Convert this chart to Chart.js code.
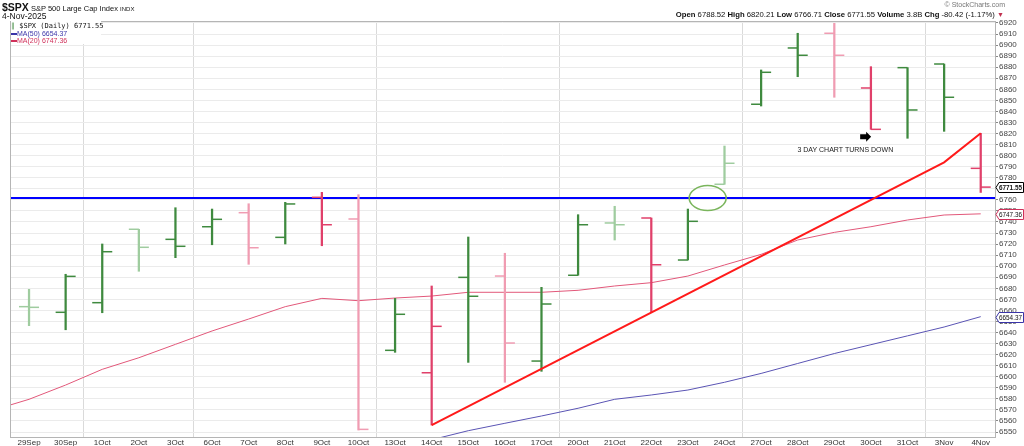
<!DOCTYPE html>
<html>
<head>
<meta charset="utf-8">
<script src="https://cdn.jsdelivr.net/npm/chart.js@4.4.1/dist/chart.umd.min.js"></script>
<style>
  html, body { margin: 0; padding: 0; background: #fff; }
  #wrap { position: relative; width: 1024px; height: 446px; font-family: "Liberation Sans", Arial, sans-serif; color: #111; }
  #c { position: absolute; left: 0; top: 0; }
  .txt { position: absolute; white-space: nowrap; line-height: 1; }
  #legend { position: absolute; left: 11px; top: 21px; width: 90px; height: 23px; background: #fff; }
  #legend div { height: 7px; line-height: 7px; font-size: 7px; white-space: nowrap; }
</style>
</head>
<body>
<div id="wrap">
  <canvas id="c" width="1024" height="446"></canvas>
  <div class="txt" style="left:2px;top:2px;font-size:7.5px;"><b style="font-size:10.5px;">$SPX</b> S&amp;P 500 Large Cap Index <span style="font-size:6px;">INDX</span></div>
  <div class="txt" style="left:2px;top:12px;font-size:8.5px;">4-Nov-2025</div>
  <div class="txt" style="right:19px;top:1px;font-size:7px;color:#777;">&copy; StockCharts.com</div>
  <div class="txt" style="right:20px;top:11px;font-size:7.7px;"><b>Open</b> 6788.52 <b>High</b> 6820.21 <b>Low</b> 6766.71 <b>Close</b> 6771.55 <b>Volume</b> 3.8B <b>Chg</b> -80.42 (-1.17%) <span style="color:#c0304f;font-size:7px;">&#9660;</span></div>
  <div id="legend">
    <div style="font-family:'DejaVu Sans Mono',monospace;margin-top:2px;"><span style="color:#3c8a3c;">&#8741;</span> $SPX (Daily) 6771.55</div>
    <div style="color:#3a35a8;"><span style="display:inline-block;width:6px;height:1.5px;background:#3a35a8;vertical-align:middle;"></span>MA(50) 6654.37</div>
    <div style="color:#d0305a;"><span style="display:inline-block;width:6px;height:1.5px;background:#d0305a;vertical-align:middle;"></span>MA(20) 6747.36</div>
  </div>
</div>
<script>
// 일별 OHLC
const DATES = ['29Sep', '30Sep', '1Oct', '2Oct', '3Oct', '6Oct', '7Oct', '8Oct', '9Oct', '10Oct', '13Oct', '14Oct', '15Oct', '16Oct', '17Oct', '20Oct', '21Oct', '22Oct', '23Oct', '24Oct', '27Oct', '28Oct', '29Oct', '30Oct', '31Oct', '3Nov', '4Nov'];
const OPEN  = [6663.4, 6658.3, 6667.0, 6733.4, 6724.3, 6735.7, 6748.4, 6726.1, 6762.3, 6742.7, 6623.9, 6603.6, 6689.9, 6691.1, 6614.2, 6691.8, 6739.1, 6743.6, 6705.6, 6774.1, 6846.5, 6897.4, 6910.7, 6861.2, 6879.6, 6882.9, 6788.52];
const HIGH  = [6679.1, 6692.7, 6720.1, 6733.4, 6752.9, 6751.7, 6756.5, 6757.8, 6766.8, 6764.7, 6670.9, 6682.1, 6726.4, 6711.7, 6680.9, 6746.6, 6754.2, 6743.6, 6751.7, 6808.7, 6877.5, 6910.7, 6919.7, 6880.5, 6879.6, 6882.9, 6820.21];
const LOW   = [6646.2, 6642.5, 6657.9, 6695.4, 6707.7, 6719.4, 6701.7, 6720.1, 6718.5, 6551.8, 6622.1, 6556.3, 6613.0, 6595.0, 6604.9, 6691.8, 6723.7, 6658.6, 6705.6, 6774.1, 6844.9, 6871.4, 6852.8, 6823.8, 6815.7, 6822.0, 6766.71];
const CLOSE = [6662.8, 6690.8, 6713.1, 6717.1, 6718.0, 6742.4, 6716.7, 6756.3, 6737.5, 6552.4, 6656.5, 6645.6, 6672.8, 6630.5, 6665.8, 6737.5, 6737.5, 6701.3, 6740.6, 6793.1, 6875.4, 6890.8, 6890.8, 6823.8, 6841.3, 6852.8, 6771.55];

// 이동평균
const MA20_BEFORE = 6569.6; // 26Sep
const MA20 = [6579.6, 6592.5, 6606.7, 6617.2, 6629.3, 6641.4, 6652.2, 6663.4, 6670.9, 6668.8, 6671.2, 6673.0, 6676.4, 6676.4, 6676.4, 6678.2, 6682.1, 6685.1, 6691.1, 6701.1, 6710.7, 6723.7, 6730.6, 6735.7, 6741.8, 6746.3, 6747.36];
const MA50 = [null, null, null, null, null, null, null, null, null, null, null, 6543.0, 6551.2, 6557.9, 6564.5, 6571.5, 6579.6, 6583.5, 6588.0, 6595.0, 6603.0, 6612.0, 6621.0, 6629.0, 6637.0, 6645.0, 6654.37];

// 추세선 / 저항선 / 메모
const TREND_AT = [11, 25, 26];
const TREND_VAL = [6556.3, 6794.0, 6820.2];
const RESIST = 6761.6;
const CIRCLE_AT = 18.54;
const NOTE_AT = 22.3;
const NOTE_VAL = 6805.0;
const NOTE_TEXT = '3 DAY CHART TURNS DOWN';
const ARROW_AT = 22.87;
const ARROW_VAL = 6817.0;

const Y_TICKS = [6550, 6560, 6570, 6580, 6590, 6600, 6610, 6620, 6630, 6640, 6650, 6660, 6670, 6680, 6690, 6700, 6710, 6720, 6730, 6740, 6750, 6760, 6770, 6780, 6790, 6800, 6810, 6820, 6830, 6840, 6850, 6860, 6870, 6880, 6890, 6900, 6910, 6920];
const WEEK_LINES = [0, 2, 5, 10, 15, 20, 25];

// 막대 색 (dg 진녹색, lg 연녹색, pk 분홍, rd 빨강)
const BAR_TONE = ['lg', 'dg', 'dg', 'lg', 'dg', 'dg', 'pk', 'dg', 'rd', 'pk', 'dg', 'rd', 'dg', 'pk', 'dg', 'dg', 'lg', 'rd', 'dg', 'lg', 'dg', 'dg', 'pk', 'rd', 'dg', 'dg', 'rd'];
const TONES = { dg: '#3f8a3f', lg: '#9fcc9f', pk: '#f09cb2', rd: '#e0406a' };
const barColors = BAR_TONE.map(t => TONES[t]);

const TICK_OFF = 0.137; // 시가/종가 눈금 반폭 (x 단위)

const extras = {
    id: 'extras',
    afterDraw(chart) {
        const { ctx, chartArea: a, scales: { x, y } } = chart;
        ctx.save();
        // 테두리
        ctx.strokeStyle = '#b5b5b5';
        ctx.lineWidth = 1;
        ctx.strokeRect(a.left + 0.5, a.top + 0.5, a.right - a.left, a.bottom - a.top);

        // 원
        ctx.strokeStyle = '#7ab55c';
        ctx.lineWidth = 1.5;
        ctx.beginPath();
        ctx.ellipse(x.getPixelForValue(CIRCLE_AT), y.getPixelForValue(RESIST), 18.5, 12.5, 0, 0, Math.PI * 2);
        ctx.stroke();

        // 화살표
        const ax = x.getPixelForValue(ARROW_AT), ay = y.getPixelForValue(ARROW_VAL);
        ctx.fillStyle = '#000';
        ctx.beginPath();
        ctx.moveTo(ax - 6, ay - 2.5);
        ctx.lineTo(ax, ay - 2.5);
        ctx.lineTo(ax, ay - 5);
        ctx.lineTo(ax + 5, ay);
        ctx.lineTo(ax, ay + 5);
        ctx.lineTo(ax, ay + 2.5);
        ctx.lineTo(ax - 6, ay + 2.5);
        ctx.closePath();
        ctx.fill();

        // 메모
        ctx.font = '7px "Liberation Sans", Arial, sans-serif';
        ctx.fillStyle = '#222';
        ctx.textAlign = 'center';
        ctx.textBaseline = 'middle';
        ctx.fillText(NOTE_TEXT, x.getPixelForValue(NOTE_AT), y.getPixelForValue(NOTE_VAL));

        // 오른쪽 가격 태그
        const tag = (val, color, bold) => {
            const yp = Math.round(y.getPixelForValue(val)) + 0.5;
            const x0 = a.right + 1;
            ctx.beginPath();
            ctx.moveTo(x0, yp);
            ctx.lineTo(x0 + 3, yp - 5);
            ctx.lineTo(1023.5, yp - 5);
            ctx.lineTo(1023.5, yp + 5);
            ctx.lineTo(x0 + 3, yp + 5);
            ctx.closePath();
            ctx.fillStyle = '#fff';
            ctx.fill();
            ctx.strokeStyle = color;
            ctx.lineWidth = 1;
            ctx.stroke();
            ctx.fillStyle = '#111';
            ctx.textAlign = 'left';
            ctx.textBaseline = 'middle';
            ctx.font = (bold ? 'bold ' : '') + '6.5px "Liberation Sans", Arial, sans-serif';
            ctx.fillText(String(val), x0 + 3, yp + 0.5, 23);
        };
        tag(MA20[MA20.length - 1], '#d0305a', false);
        tag(MA50[MA50.length - 1], '#3a35a8', false);
        tag(CLOSE[CLOSE.length - 1], '#000', true);
        ctx.restore();
    }
};

new Chart(document.getElementById('c'), {
    type: 'bar',
    data: {
        datasets: [
            {
                type: 'line', label: 'Trend',
                data: TREND_AT.map((v, i) => ({ x: v, y: TREND_VAL[i] })),
                borderColor: '#ff1a1a', borderWidth: 2, pointRadius: 0, tension: 0
            },
            {
                type: 'line', label: 'Open',
                data: OPEN.map((v, i) => ({ x: i - TICK_OFF, y: v })),
                showLine: false, pointStyle: 'line', pointRadius: 5,
                pointBorderColor: barColors, pointBorderWidth: 1.5
            },
            {
                type: 'line', label: 'Close',
                data: CLOSE.map((v, i) => ({ x: i + TICK_OFF, y: v })),
                showLine: false, pointStyle: 'line', pointRadius: 5,
                pointBorderColor: barColors, pointBorderWidth: 1.5
            },
            {
                type: 'bar', label: 'HL',
                data: HIGH.map((v, i) => ({ x: i, y: [LOW[i], v] })),
                backgroundColor: barColors, borderWidth: 0, barThickness: 1.6, grouped: false
            },
            {
                type: 'line', label: 'MA(20)',
                data: [{ x: -1, y: MA20_BEFORE }].concat(MA20.map((v, i) => ({ x: i, y: v }))),
                borderColor: '#e2587a', borderWidth: 1, pointRadius: 0, tension: 0
            },
            {
                type: 'line', label: 'MA(50)',
                data: MA50.map((v, i) => ({ x: i, y: v })),
                borderColor: '#5a54b4', borderWidth: 1, pointRadius: 0, tension: 0
            },
            {
                type: 'line', label: 'Resist',
                data: [{ x: -1, y: RESIST }, { x: 27, y: RESIST }],
                borderColor: '#0000ff', borderWidth: 2, pointRadius: 0
            }
        ]
    },
    options: {
        responsive: false,
        animation: false,
        events: [],
        layout: { padding: { left: 10, top: 21, right: 0, bottom: 0 } },
        plugins: { legend: { display: false }, tooltip: { enabled: false } },
        scales: {
            x: {
                type: 'linear', min: -0.52, max: 26.39, offset: false,
                afterBuildTicks: s => { s.ticks = DATES.map((d, i) => ({ value: i })); },
                afterFit: s => { s.height = 9; },
                ticks: {
                    autoSkip: false, maxRotation: 0, padding: 1,
                    color: '#333', font: { size: 8, family: '"Liberation Sans", Arial, sans-serif' },
                    callback: v => DATES[v]
                },
                grid: {
                    drawTicks: false,
                    color: c => WEEK_LINES.includes(c.tick && c.tick.value) ? '#dadada' : 'rgba(0,0,0,0)'
                },
                border: { color: '#b5b5b5' }
            },
            y: {
                position: 'right', min: 6545.5, max: 6921.8,
                afterBuildTicks: s => { s.ticks = Y_TICKS.map(v => ({ value: v })); },
                afterFit: s => { s.width = 29; },
                ticks: {
                    autoSkip: false, padding: 1, color: '#444',
                    font: { size: 8, family: '"Liberation Sans", Arial, sans-serif' },
                    callback: v => String(v)
                },
                grid: { color: '#ebebeb', tickLength: 3, tickColor: '#888' },
                border: { color: '#999' }
            }
        }
    },
    plugins: [extras]
});
</script>
</body>
</html>
